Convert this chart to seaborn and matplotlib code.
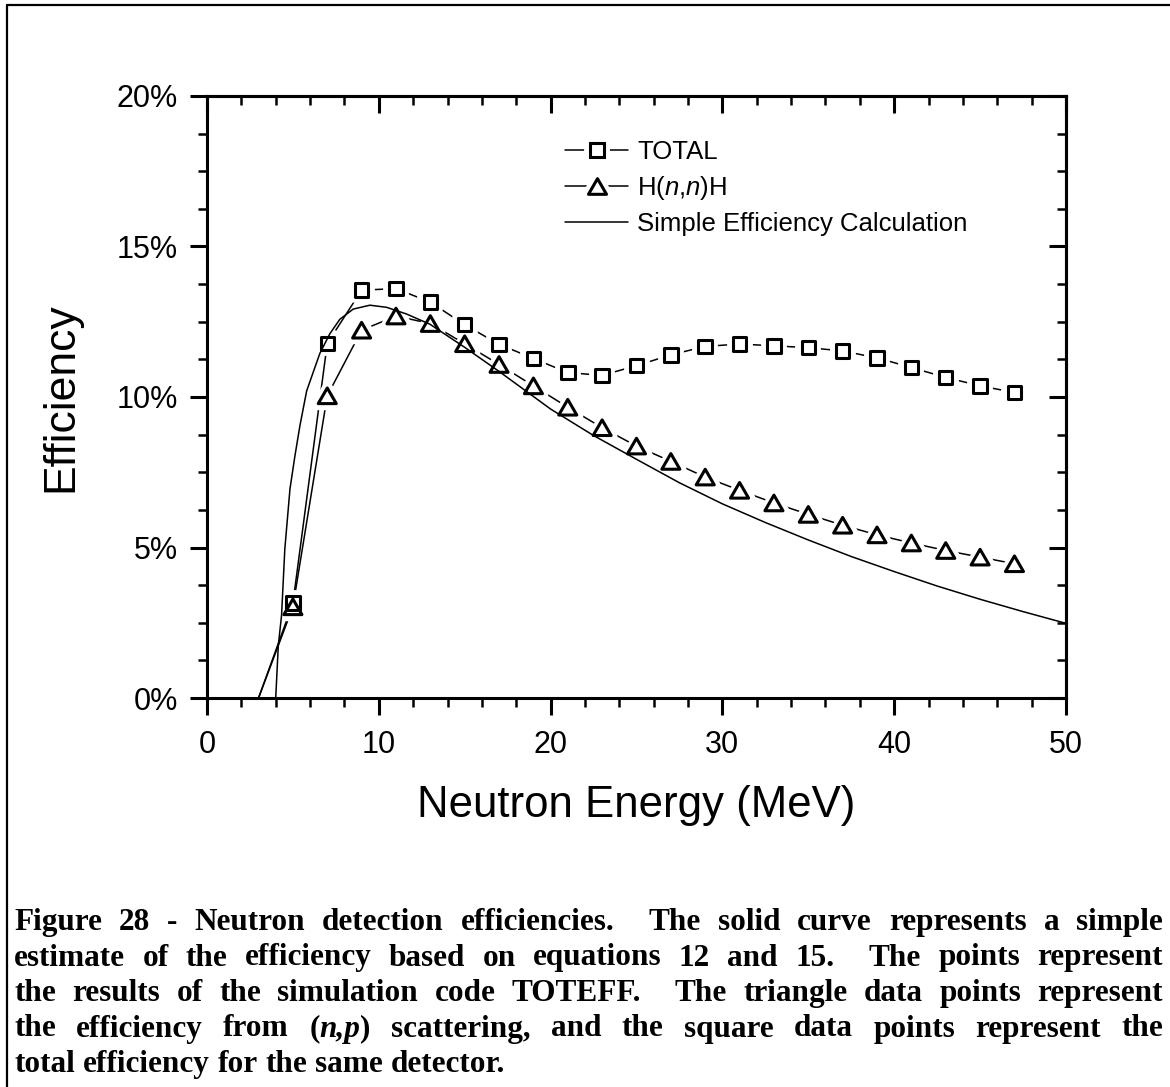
import numpy as np
import pandas as pd
import seaborn as sns
import matplotlib
matplotlib.use("Agg")
import matplotlib.pyplot as plt
from matplotlib.lines import Line2D
from matplotlib.legend_handler import HandlerTuple
from matplotlib.ticker import MultipleLocator, FuncFormatter
from matplotlib.path import Path

# ---- simulation results (TOTEFF), efficiency in percent ----
energy = [3, 5, 7, 9, 11, 13, 15, 17, 19, 21, 23, 25, 27, 29, 31, 33, 35, 37,
          39, 41, 43, 45, 47]
total_eff = [0.0, 3.15, 11.78, 13.55, 13.60, 13.15, 12.40, 11.75, 11.28, 10.81,
             10.72, 11.04, 11.40, 11.68, 11.76, 11.70, 11.64, 11.53, 11.30,
             10.98, 10.65, 10.37, 10.15]
nn_eff = [0.0, 3.03, 10.04, 12.22, 12.69, 12.44, 11.77, 11.08, 10.37, 9.66,
          8.98, 8.37, 7.86, 7.34, 6.90, 6.48, 6.10, 5.74, 5.42, 5.15, 4.90,
          4.68, 4.46]

# ---- simple efficiency estimate (equations 12 and 15) ----
calc_energy = [4.0, 4.15, 4.34, 4.53, 4.83, 5.12, 5.41, 5.8, 6.18, 6.57, 7.15,
               7.73, 8.51, 9.48, 10.45, 11.6, 12.97, 15.0, 17.0, 20.0, 22.5,
               25.0, 27.5, 30.0, 32.5, 35.0, 37.5, 40.0, 42.5, 45.0, 47.5, 50.0]
calc_eff = [0.0, 1.74, 2.75, 4.95, 6.95, 8.05, 9.05, 10.2, 10.82, 11.45, 12.1,
            12.58, 12.92, 13.05, 12.98, 12.76, 12.42, 11.65, 10.85, 9.6, 8.72,
            7.93, 7.15, 6.45, 5.83, 5.25, 4.7, 4.2, 3.72, 3.28, 2.87, 2.48]

series_labels = ["TOTAL", "H($\\mathit{n}$,$\\mathit{n}$)H",
                 "Simple Efficiency Calculation"]

caption = [
    "Figure 28 - Neutron detection efficiencies.  The solid curve represents a simple",
    "estimate of the efficiency based on equations 12 and 15.  The points represent",
    "the results of the simulation code TOTEFF.  The triangle data points represent",
    "the efficiency from (*n,p*) scattering, and the square data points represent the",
    "total efficiency for the same detector.",
]

sns.set_theme(style="white", rc={
    "axes.edgecolor": "black", "xtick.color": "black", "ytick.color": "black",
    "text.color": "black", "axes.labelcolor": "black",
})
plt.rcParams["font.family"] = ["Liberation Sans", "DejaVu Sans"]
plt.rcParams["mathtext.fontset"] = "custom"
plt.rcParams["mathtext.rm"] = "Liberation Sans"
plt.rcParams["mathtext.it"] = "Liberation Sans:italic"

W, H = 1170, 1087
fig = plt.figure(figsize=(W / 100, H / 100), dpi=100)
fig.patch.set_facecolor("white")
ax = fig.add_axes([207 / W, 1 - 698 / H, (1066 - 207) / W, (698 - 96) / H])
ax.set_facecolor("white")

sim = pd.DataFrame({"energy": energy, "total": total_eff, "nn": nn_eff})
calc = pd.DataFrame({"energy": calc_energy, "eff": calc_eff})
pts = sim.iloc[1:]

# equilateral triangle marker
tri = Path([(-0.5, -0.433), (0.5, -0.433), (0.0, 0.433), (-0.5, -0.433)],
           [Path.MOVETO, Path.LINETO, Path.LINETO, Path.CLOSEPOLY])

LW = 1.1
SQ_S, TRI_S = 9.7 ** 2, 13.0 ** 2
EDGE = 2.2
HALO = 8.5

# connecting lines
sns.lineplot(data=sim, x="energy", y="total", color="black", lw=LW, ax=ax,
             sort=False, zorder=1)
sns.lineplot(data=sim, x="energy", y="nn", color="black", lw=LW, ax=ax,
             sort=False, zorder=1)
# white halos open a small gap in the connecting lines around each symbol
sns.scatterplot(data=pts, x="energy", y="total", marker="s", s=SQ_S,
                color="white", edgecolor="white", linewidth=HALO, ax=ax, zorder=2)
sns.scatterplot(data=pts, x="energy", y="nn", marker=tri, s=TRI_S,
                color="white", edgecolor="white", linewidth=HALO, ax=ax, zorder=2)
# simple estimate curve
sns.lineplot(data=calc, x="energy", y="eff", color="black", lw=LW, ax=ax,
             sort=False, zorder=3)
# hollow symbols
sns.scatterplot(data=pts, x="energy", y="total", marker="s", s=SQ_S,
                facecolor="none", edgecolor="black", linewidth=EDGE, ax=ax, zorder=4)
sns.scatterplot(data=pts, x="energy", y="nn", marker=tri, s=TRI_S,
                facecolor="none", edgecolor="black", linewidth=EDGE, ax=ax, zorder=4)

ax.set_xlim(0, 50)
ax.set_ylim(0, 20)
ax.xaxis.set_major_locator(MultipleLocator(10))
ax.xaxis.set_minor_locator(MultipleLocator(2))
ax.yaxis.set_major_locator(MultipleLocator(5))
ax.yaxis.set_minor_locator(MultipleLocator(1.25))
ax.yaxis.set_major_formatter(FuncFormatter(lambda v, p: f"{v:.0f}%"))

for s in ax.spines.values():
    s.set_linewidth(2.2)
    s.set_color("black")

ax.tick_params(which="both", direction="out", top=False, right=False,
               bottom=True, left=True, colors="black")
ax.tick_params(which="major", length=12, width=2.2, labelsize=22)
ax.tick_params(which="minor", length=6.5, width=1.8)
ax.tick_params(axis="x", which="major", pad=11)
ax.tick_params(axis="y", which="major", pad=9)

# inward ticks on the top and right edges
top = ax.secondary_xaxis("top")
top.xaxis.set_major_locator(MultipleLocator(10))
top.xaxis.set_minor_locator(MultipleLocator(2))
top.tick_params(which="both", direction="in", labeltop=False, colors="black")
top.tick_params(which="major", length=12, width=2.2)
top.tick_params(which="minor", length=6.5, width=1.8)
top.spines["top"].set_linewidth(2.2)
right = ax.secondary_yaxis("right")
right.yaxis.set_major_locator(MultipleLocator(5))
right.yaxis.set_minor_locator(MultipleLocator(1.25))
right.tick_params(which="both", direction="in", labelright=False, colors="black")
right.tick_params(which="major", length=12, width=2.2)
right.tick_params(which="minor", length=6.5, width=1.8)
right.spines["right"].set_linewidth(2.2)

ax.set_xlabel("Neutron Energy (MeV)", fontsize=31.5)
ax.xaxis.set_label_coords(0.5, (698 - 817) / 602)
ax.xaxis.label.set_verticalalignment("baseline")
ax.set_ylabel("Efficiency", fontsize=32)
ax.yaxis.set_label_coords((81 - 207) / 859, 0.5)

# legend
def sym_handle(marker, ms):
    return (Line2D([], [], color="black", lw=LW),
            Line2D([], [], ls="", marker=marker, ms=ms, mfc="white",
                   mec="white", mew=HALO),
            Line2D([], [], ls="", marker=marker, ms=ms, mfc="white",
                   mec="black", mew=EDGE))

handles = [sym_handle("s", 9.7), sym_handle(tri, 13.0),
           Line2D([], [], color="black", lw=LW)]
leg_fs = 18.5
ax.legend(handles=handles, labels=series_labels,
          handler_map={tuple: HandlerTuple(ndivide=1)},
          frameon=False, fontsize=leg_fs,
          handlelength=63 / (leg_fs * 100 / 72),
          handletextpad=9 / (leg_fs * 100 / 72),
          labelspacing=0.38, loc="upper left",
          bbox_to_anchor=((565 - 207) / 859, (698 - 140) / 602),
          borderaxespad=0, borderpad=0)

# outer frame (top and left edges)
fig.add_artist(Line2D([7 / W, 7 / W], [-0.05, 1 - 5 / H], color="black",
                      lw=1.6, transform=fig.transFigure))
fig.add_artist(Line2D([7 / W, 1.05], [1 - 5 / H, 1 - 5 / H], color="black",
                      lw=1.6, transform=fig.transFigure))

# justified caption
fig.canvas.draw()
renderer = fig.canvas.get_renderer()
cap_kw = dict(family=["Liberation Serif", "DejaVu Serif"], weight="bold",
              size=22.5)


def text_width(s, italic=False):
    t = fig.text(0, 0, s, style="italic" if italic else "normal", **cap_kw)
    w = t.get_window_extent(renderer).width
    t.remove()
    return w


space_w = text_width("a a") - text_width("aa")
left_px, right_px = 14, 1163
baselines = [930, 965.5, 1001, 1036.5, 1072]

for li, (line, base) in enumerate(zip(caption, baselines)):
    tokens = line.split(" ")
    words, weights = [], []
    pending = 0
    for tok in tokens:
        if tok == "":
            pending += 1
            continue
        if words:
            weights.append(1 + pending)
        pending = 0
        segs = [(p, i % 2 == 1) for i, p in enumerate(tok.split("*")) if p]
        words.append(segs)
    widths = [sum(text_width(p, it) for p, it in w) for w in words]
    justify = li < len(caption) - 1
    if justify:
        unit = (right_px - left_px - sum(widths)) / sum(weights)
    else:
        unit = space_w
    x = left_px
    for wi, segs in enumerate(words):
        sx = x
        for p, it in segs:
            fig.text(sx / W, 1 - base / H, p, ha="left", va="baseline",
                     style="italic" if it else "normal", **cap_kw)
            sx += text_width(p, it)
        x += widths[wi]
        if wi < len(weights):
            x += unit * weights[wi]

fig.savefig("out.png", dpi=100, facecolor="white")
